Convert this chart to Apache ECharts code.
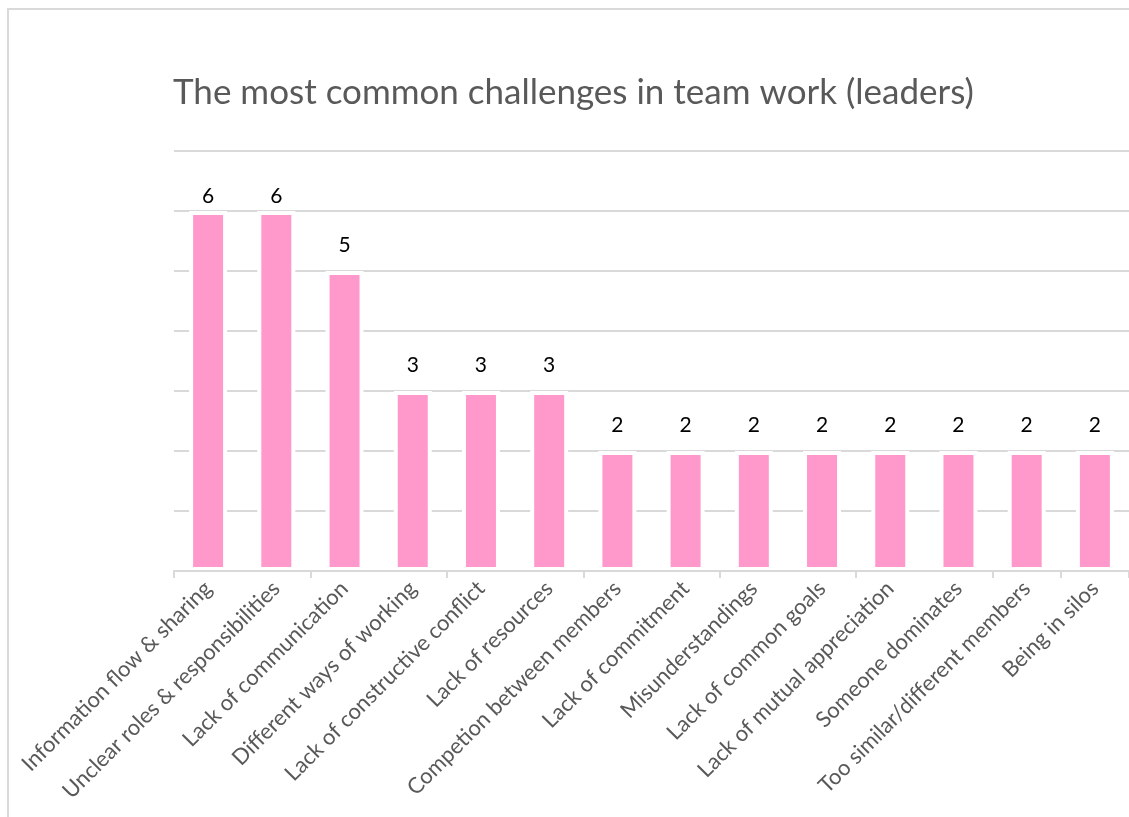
<!DOCTYPE html>
<html>
<head>
<meta charset="utf-8">
<script src="https://cdn.jsdelivr.net/npm/echarts@6/dist/echarts.min.js"></script>
<style>
  html, body { margin: 0; padding: 0; background: #fff; }
  #chart { width: 1129px; height: 817px; }
</style>
</head>
<body>
<div id="chart"></div>
<script>
// Challenges named by team leaders, with the number of mentions
const categories = [
  'Information flow & sharing',
  'Unclear roles & responsibilities',
  'Lack of communication',
  'Different ways of working',
  'Lack of constructive conflict',
  'Lack of resources',
  'Competion between members',
  'Lack of commitment',
  'Misunderstandings',
  'Lack of common goals',
  'Lack of mutual appreciation',
  'Someone dominates',
  'Too similar/different members',
  'Being in silos'
];
const mentions = [6, 6, 5, 3, 3, 3, 2, 2, 2, 2, 2, 2, 2, 2];
const titleText = 'The most common challenges in team work (leaders)';

const axisMax = 7;
const chart = echarts.init(document.getElementById('chart'), null, { renderer: 'canvas' });
const font = 'Lato, "Open Sans", sans-serif';

// Value labels sit above each bar; near the top of the plot they are pulled
// in closer so they stay inside the plotting area.
const barData = mentions.map(v => ({
  value: v,
  label: { distance: v >= axisMax - 1 ? 4 : 15 }
}));

chart.setOption({
  animation: false,
  backgroundColor: '#ffffff',
  graphic: [{
    type: 'rect',
    shape: { x: 8, y: 9, width: 1300, height: 1000 },
    style: { fill: 'none', stroke: '#d9d9d9', lineWidth: 2 },
    z: -1
  }],
  title: {
    text: titleText,
    left: 168,
    top: 70,
    textStyle: { color: '#595959', fontFamily: font, fontWeight: 'normal', fontSize: 35 }
  },
  grid: { left: 174, right: -4, top: 151, bottom: 246, containLabel: false },
  xAxis: {
    type: 'category',
    data: categories,
    z: 10,
    axisLine: { lineStyle: { color: '#d9d9d9', width: 2 } },
    axisTick: { show: true, interval: 1, length: 7, lineStyle: { color: '#d9d9d9', width: 2 } },
    axisLabel: {
      interval: 0,
      rotate: 45,
      margin: 14,
      color: '#595959',
      fontFamily: font,
      fontSize: 22
    }
  },
  yAxis: {
    type: 'value',
    min: 0,
    max: axisMax,
    interval: 1,
    axisLine: { show: false },
    axisTick: { show: false },
    axisLabel: { show: false },
    splitLine: { lineStyle: { color: '#d9d9d9', width: 2 } }
  },
  series: [{
    type: 'bar',
    data: barData,
    barWidth: 38,
    itemStyle: { color: '#ff99cc', borderColor: '#ffffff', borderWidth: 4 },
    label: {
      show: true,
      position: 'top',
      color: '#000000',
      fontFamily: font,
      fontSize: 21
    }
  }]
});
</script>
</body>
</html>
